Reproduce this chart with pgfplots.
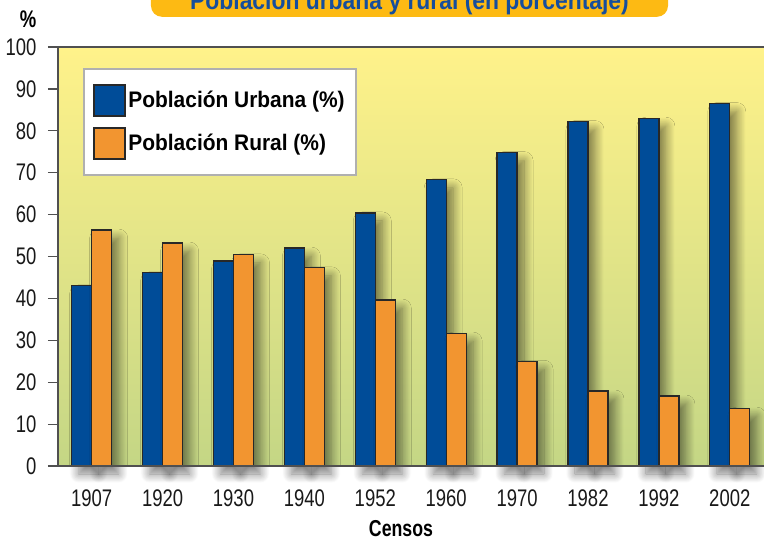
\documentclass[border=0pt]{standalone}
\usepackage{pgfplots}
\pgfplotsset{compat=1.18}
\usepackage{fontspec}
\setmainfont{Liberation Sans}
\newfontfamily\condfont{Liberation Sans}[FakeStretch=0.77]
\newfontfamily\legfont{Liberation Sans}[FakeStretch=0.93]
\newfontfamily\titlefont{Liberation Sans}[FakeStretch=0.88]
\usetikzlibrary{shadows.blur}
\definecolor{ublue}{RGB}{0,76,152}
\definecolor{uorange}{RGB}{242,149,48}
\definecolor{bgtop}{RGB}{255,242,138}
\definecolor{bgbot}{RGB}{196,214,133}
\definecolor{titlebox}{RGB}{253,186,19}
\definecolor{titletext}{RGB}{22,78,156}
\definecolor{barline}{RGB}{40,40,40}
\definecolor{axisline}{RGB}{80,80,80}
\definecolor{legline}{RGB}{176,176,176}
\tikzset{barshadow/.style={blur shadow={shadow xshift=7pt, shadow yshift=-8pt, shadow blur radius=9pt, shadow opacity=50, shadow blur steps=14}}}
\begin{document}
\begin{tikzpicture}
\begin{axis}[
  at={(0pt,0pt)}, anchor=south west,
  scale only axis, width=712pt, height=419pt,
  xmin=-0.475, xmax=9.567,
  ymin=0, ymax=100,
  clip=false,
  axis on top,
  axis line style={draw=axisline, line width=1.6pt},
  axis background/.style={top color=bgtop, bottom color=bgbot},
  ytick={0,10,...,100},
  xtick={0,...,9},
  xticklabels={1907,1920,1930,1940,1952,1960,1970,1982,1992,2002},
  tick align=outside,
  ytick pos=left,
  xtick pos=bottom,
  major tick length=10pt,
  ytick style={draw=axisline, line width=1.2pt},
  xtick style={draw=none},
  /pgf/number format/assume math mode=true,
  tick label style={font=\condfont\fontsize{24}{28}\selectfont, text=black!90},
  yticklabel style={anchor=east, xshift=-8pt},
  xticklabel style={anchor=base, yshift=-30pt},
  xlabel={\condfont\bfseries Censos},
  every axis x label/.style={at={(axis description cs:0.4817,-0.1671)}, anchor=base, font=\condfont\bfseries\fontsize{23}{27}\selectfont},
  ylabel={\%},
  every axis y label/.style={at={(axis description cs:-0.0421,1.0477)}, anchor=base, font=\condfont\bfseries\fontsize{24}{28}\selectfont},
  title={Población urbana y rural (en porcentaje)},
  every axis title/.style={at={(axis description cs:0.49368,1.0716)}, anchor=south,
     fill=titlebox, rounded corners=11pt, minimum width=517pt, text depth=0pt,
     inner ysep=7pt, text=titletext, font=\titlefont\bfseries\fontsize{26}{30}\selectfont},
  legend image code/.code={\draw[line width=1.8pt, draw=barline, #1] (0pt,-15.5pt) rectangle (31pt,15.5pt);},
  legend style={at={(axis description cs:0.03511,0.9499)}, anchor=north west,
     draw=legline, line width=2.2pt, fill=white,
     inner xsep=9pt, inner ysep=15pt, row sep=10pt,
     font=\legfont\bfseries\fontsize{22.5}{26}\selectfont,
     nodes={inner sep=2.5pt}},
  legend cell align=left,
]
\addlegendimage{fill=ublue}
\addlegendentry{Población Urbana (\%)}
\addlegendimage{fill=uorange}
\addlegendentry{Población Rural (\%)}
\addplot[ybar, bar width=20pt, bar shift=-10pt, fill=ublue, draw=barline, line width=1.3pt, barshadow, forget plot]
  coordinates {(0,43.0) (1,46.1) (2,48.9) (3,52.0) (4,60.4) (5,68.3) (6,74.8) (7,82.2) (8,83.0) (9,86.5)};
\addplot[ybar, bar width=20pt, bar shift=10pt, fill=uorange, draw=barline, line width=1.3pt, barshadow, forget plot]
  coordinates {(0,56.3) (1,53.2) (2,50.4) (3,47.3) (4,39.6) (5,31.7) (6,25.0) (7,17.9) (8,16.7) (9,13.8)};
\end{axis}
\pgfresetboundingbox
\useasboundingbox (-58pt,-73pt) rectangle (706pt,466pt);
\end{tikzpicture}
\end{document}
